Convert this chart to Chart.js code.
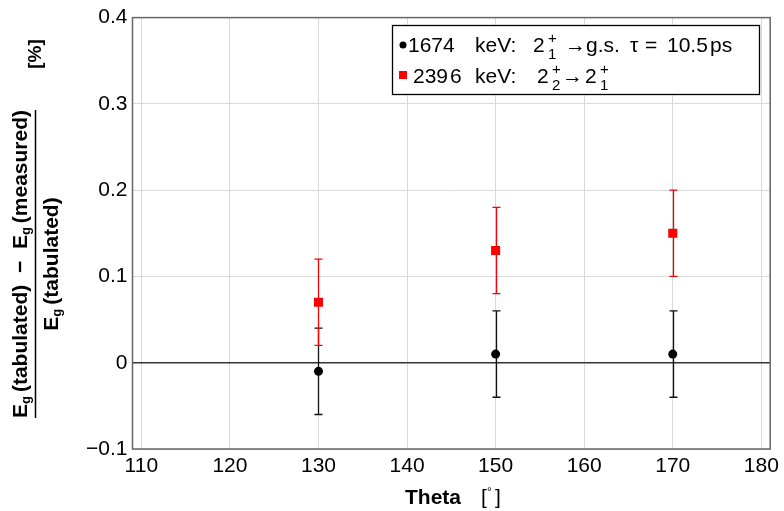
<!DOCTYPE html>
<html>
<head>
<meta charset="utf-8">
<script src="https://cdn.jsdelivr.net/npm/chart.js@4/dist/chart.umd.min.js"></script>
<style>
  html, body { margin: 0; padding: 0; background: #fff; }
</style>
</head>
<body>
<canvas id="chart" width="784" height="511"></canvas>
<script>
const theta = [130, 150, 170];
const dev1674 = [-0.01, 0.01, 0.01];
const err1674 = [0.05, 0.05, 0.05];
const dev2396 = [0.07, 0.13, 0.15];
const err2396 = [0.05, 0.05, 0.05];
const xTicks = [110, 120, 130, 140, 150, 160, 170, 180];
const yTicks = [-0.1, 0, 0.1, 0.2, 0.3, 0.4];

const FONT = "'Liberation Sans', Arial, Helvetica, sans-serif";

function toPoints(xs, ys, es) {
    return xs.map((x, i) => ({ x: x, y: ys[i], err: es[i] }));
}

// vertical error bars with short caps, drawn under the markers
const errorBars = {
    id: 'errorBars',
    beforeDatasetsDraw(chart) {
        const ctx = chart.ctx;
        const xs = chart.scales.x, ys = chart.scales.y;
        chart.data.datasets.forEach(ds => {
            ctx.save();
            ctx.strokeStyle = ds.barColor;
            ctx.lineWidth = 1.3;
            ds.data.forEach(p => {
                const px = Math.round(xs.getPixelForValue(p.x)) + 0.5;
                const top = ys.getPixelForValue(p.y + p.err);
                const bot = ys.getPixelForValue(p.y - p.err);
                ctx.beginPath();
                ctx.moveTo(px, top); ctx.lineTo(px, bot);
                ctx.moveTo(px - 4, top); ctx.lineTo(px + 4, top);
                ctx.moveTo(px - 4, bot); ctx.lineTo(px + 4, bot);
                ctx.stroke();
            });
            ctx.restore();
        });
    }
};

function runs(ctx, parts, x, y) {
    parts.forEach(p => {
        ctx.font = p.f;
        ctx.fillText(p.t, x + (p.dx || 0), y + (p.dy || 0));
        x += ctx.measureText(p.t).width + (p.gap || 0);
    });
    return x;
}

const decorations = {
    id: 'decorations',
    afterDraw(chart) {
        const ctx = chart.ctx;
        const a = chart.chartArea;

        // frame round the plot
        ctx.save();
        ctx.strokeStyle = '#666';
        ctx.lineWidth = 1.5;
        ctx.strokeRect(a.left, a.top, a.right - a.left, a.bottom - a.top);
        ctx.restore();

        // legend
        ctx.save();
        ctx.fillStyle = '#fff';
        ctx.fillRect(392.5, 25.5, 367, 69);
        ctx.strokeStyle = '#000';
        ctx.lineWidth = 1.3;
        ctx.strokeRect(392.5, 25.5, 367, 69);
        ctx.fillStyle = '#000';
        ctx.beginPath();
        ctx.arc(403, 45, 3.5, 0, Math.PI * 2);
        ctx.fill();
        ctx.fillStyle = '#ff0000';
        ctx.fillRect(399, 71, 8, 8);

        const big = '21px ' + FONT, small = '15px ' + FONT;
        ctx.fillStyle = '#000';
        ctx.textBaseline = 'alphabetic';
        ctx.textAlign = 'left';
        ctx.font = big;
        ctx.fillText('1674', 408, 52);
        ctx.fillText('keV:', 475, 52);
        ctx.fillText('2', 533, 52);
        ctx.font = small;
        ctx.fillText('1', 548, 59);
        ctx.fillText('+', 548, 43);
        ctx.font = big;
        ctx.fillText('\u2192g.s.', 565, 52);
        ctx.fillText('\u03c4', 630, 52);
        ctx.fillText('=', 645, 52);
        ctx.fillText('10.5', 667, 52);
        ctx.fillText('ps', 710, 52);

        ctx.fillText('239', 413, 83);
        ctx.fillText('6', 450, 83);
        ctx.fillText('keV:', 475, 83);
        ctx.fillText('2', 537, 83);
        ctx.font = small;
        ctx.fillText('2', 552, 90);
        ctx.fillText('+', 552, 74);
        ctx.font = big;
        ctx.fillText('\u2192', 562, 83);
        ctx.fillText('2', 585, 83);
        ctx.font = small;
        ctx.fillText('1', 600, 90);
        ctx.fillText('+', 600, 74);
        ctx.restore();

        // x axis title
        ctx.save();
        ctx.fillStyle = '#000';
        ctx.textBaseline = 'alphabetic';
        ctx.font = 'bold 21px ' + FONT;
        ctx.fillText('Theta', 405, 504);
        ctx.font = '21px ' + FONT;
        ctx.fillText('[', 481, 504);
        ctx.fillText(']', 495, 504);
        ctx.font = '12px ' + FONT;
        ctx.fillText('\u00b0', 487, 496);
        ctx.restore();

        // y axis title: a fraction, rotated
        ctx.save();
        ctx.rotate(-Math.PI / 2);
        ctx.fillStyle = '#000';
        ctx.textBaseline = 'alphabetic';
        const B = 'bold 21px ' + FONT, S = 'bold 13px ' + FONT;
        const num = [
            { t: 'E', f: B }, { t: 'g', f: S, dy: 3, gap: 4 },
            { t: '(tabulated)', f: B }, { t: '  \u2212  ', f: B },
            { t: 'E', f: B }, { t: 'g', f: S, dy: 3, gap: 4 },
            { t: '(measured)', f: B }
        ];
        const den = [
            { t: 'E', f: B }, { t: 'g', f: S, dy: 3, gap: 4 },
            { t: '(tabulated)', f: B }
        ];
        const width = parts => {
            let w = 0;
            parts.forEach(p => { ctx.font = p.f; w += ctx.measureText(p.t).width + (p.gap || 0); });
            return w;
        };
        const wn = width(num), wd = width(den);
        const sn = -418;
        runs(ctx, num, sn, 27);
        runs(ctx, den, -264 - wd / 2, 58);
        ctx.strokeStyle = '#000';
        ctx.lineWidth = 1.5;
        ctx.beginPath();
        ctx.moveTo(sn, 35.5);
        ctx.lineTo(sn + wn, 35.5);
        ctx.stroke();
        ctx.font = 'bold 19px ' + FONT;
        ctx.textAlign = 'center';
        ctx.fillText('[%]', -54, 41);
        ctx.restore();
    }
};

new Chart(document.getElementById('chart'), {
    type: 'scatter',
    data: {
        datasets: [
            {
                label: '1674 keV',
                data: toPoints(theta, dev1674, err1674),
                barColor: '#111',
                pointStyle: 'circle',
                pointRadius: 4.5,
                pointBackgroundColor: '#000',
                pointBorderColor: '#000',
                pointBorderWidth: 0
            },
            {
                label: '2396 keV',
                data: toPoints(theta, dev2396, err2396),
                barColor: '#ff0000',
                pointStyle: 'rect',
                pointRadius: 6.4,
                pointBackgroundColor: '#ff0000',
                pointBorderColor: '#ff0000',
                pointBorderWidth: 0
            }
        ]
    },
    options: {
        responsive: false,
        animation: false,
        events: [],
        layout: { padding: { top: 15, right: 11.5, left: 0, bottom: 0 } },
        plugins: {
            legend: { display: false },
            tooltip: { enabled: false }
        },
        scales: {
            x: {
                type: 'linear',
                min: 109,
                max: 181,
                afterBuildTicks: s => { s.ticks = xTicks.map(v => ({ value: v })); },
                afterFit: s => { s.height = 62; },
                grid: { color: '#d9d9d9', lineWidth: 1, drawTicks: false },
                border: { display: false },
                ticks: {
                    color: '#000',
                    padding: 5,
                    maxRotation: 0,
                    font: { family: FONT, size: 21 }
                }
            },
            y: {
                type: 'linear',
                min: -0.1,
                max: 0.4,
                afterBuildTicks: s => { s.ticks = yTicks.map(v => ({ value: v })); },
                afterFit: s => { s.width = 132.5; },
                grid: {
                    color: c => (c.tick && c.tick.value === 0) ? '#333' : '#d9d9d9',
                    lineWidth: c => (c.tick && c.tick.value === 0) ? 1.4 : 1,
                    drawTicks: false
                },
                border: { display: false },
                ticks: {
                    color: '#000',
                    padding: 5,
                    font: { family: FONT, size: 21 },
                    callback: v => v < 0 ? '\u2212' + Math.abs(v) : String(v)
                }
            }
        }
    },
    plugins: [errorBars, decorations]
});
</script>
</body>
</html>
